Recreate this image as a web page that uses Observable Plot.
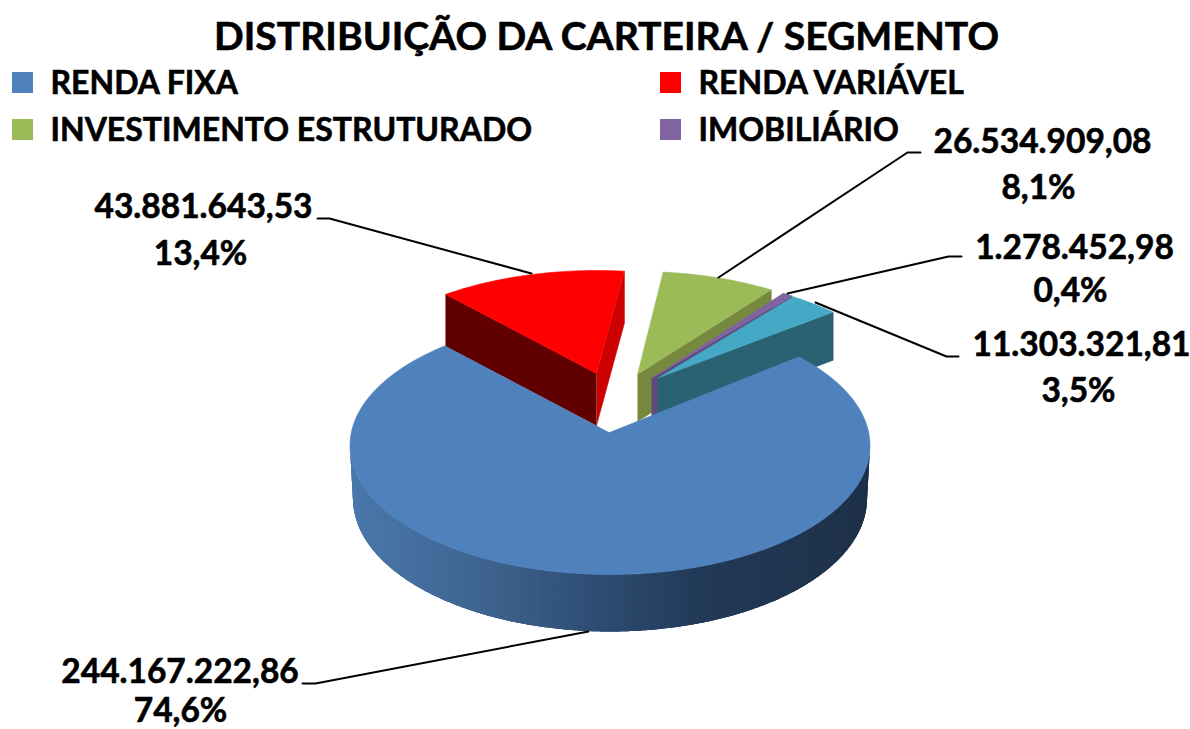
<!DOCTYPE html>
<html>
<head>
<meta charset="utf-8">
<script src="https://cdn.jsdelivr.net/npm/d3@7"></script>
<script src="https://cdn.jsdelivr.net/npm/@observablehq/plot@0.6"></script>
<style>html,body{margin:0;padding:0;background:#fff}svg{display:block}</style>
</head>
<body>
<div id="chart"></div>
<script>
// ---- data ----
const titleText = "DISTRIBUIÇÃO DA CARTEIRA / SEGMENTO";
const legendNames = ["RENDA FIXA", "RENDA VARIÁVEL", "INVESTIMENTO ESTRUTURADO", "IMOBILIÁRIO"];
const sliceValues = [244167222.86, 43881643.53, 26534909.08, 1278452.98, 11303321.81];

// ---- styles ----
const topColors  = ["#4f81bd", "#ff0000", "#9bbb59", "#8064a2", "#45a9c5"];
const wallColors = [null, "#600000", "#76893f", "#5f4a80", "#2a6273"];
const redEndWall = "#cc0000";
const blueWallStops = [[349, "#4a78ac"], [480, "#3f648f"], [600, "#2d4c72"], [700, "#223a58"], [870, "#1e3049"]];

// ---- layout (view geometry of the exploded, tilted pie) ----
const firstAngle = -43.4;
const sliceCentres = [[609.5, 445], [596, 399], [637, 400], [651, 404], [653, 405]];
const sliceApexes  = [[609, 432], [596, 373], [637, 374], [651, 378], [657, 378]];
const sliceRadii   = [260, 129];
const sliceDepths  = [0, 52, 47, 47, 48];
const perspectiveNudge = [[0, 5.4], [9.3, 2.6], [2.1, -1.8], [-2.3, -1.4], [-1.6, -2.9]];
const blueBottom = {cx: 609.5, cy: 498, rx: 257, ry: 133};

const legendSwatchX = [12, 660, 12, 660];
const legendSwatchY = [72, 72, 119, 119];
const legendTextX = [50, 698, 50, 698];
const legendTextY = [83, 83, 130, 130];

const labelValueX = [179.5, 203, 1042, 1074, 1081];
const labelValueY = [672, 207, 142, 248, 345];
const labelShareX = [180, 200, 1038, 1070, 1078];
const labelShareY = [711, 254, 188, 291, 391];
const leaderPaths = [
  [[302, 683], [315, 683], [588, 631]],
  [[317, 218], [329, 218], [531, 273]],
  [[920, 152], [907, 152], [718, 277]],
  [[961, 256], [948, 256], [787, 293]],
  [[958, 356], [946, 356], [815, 302]]
];

// ---- derived ----
const total = d3.sum(sliceValues);
const br = d3.formatLocale({decimal: ",", thousands: ".", grouping: [3], currency: ["", ""], percent: "%"});
const fmtValue = br.format(",.2f");
const fmtShare = br.format(".1%");
const rad = d => d * Math.PI / 180;

let running = firstAngle;
const sliceAngles = sliceValues.map((v, i) => {
  const a0 = running;
  running += v / total * 360;
  return [a0 + perspectiveNudge[i][0], running + perspectiveNudge[i][1]];
});

const rimPoint = (i, t) => [
  sliceCentres[i][0] + sliceRadii[0] * Math.cos(rad(t)),
  sliceCentres[i][1] + sliceRadii[1] * Math.sin(rad(t))
];
const rimArc = (i, t0, t1) => d3.range(0, 1.0001, 1 / Math.max(2, Math.ceil(Math.abs(t1 - t0)))).map(f => rimPoint(i, t0 + (t1 - t0) * f));
const shift = (p, d) => [p[0], p[1] + d];

let pid = 0;
const addPoly = (rows, pts, fill) => { pid++; pts.forEach(p => rows.push({id: pid, x: p[0], y: p[1], fill})); };
const sliceAt = i => ({apex: sliceApexes[i], a0: sliceAngles[i][0], a1: sliceAngles[i][1], d: sliceDepths[i]});

const backPolys = [], wallStrips = [], frontPoly = [];

// red: end wall, side wall, face
{
  const s = sliceAt(1), pStart = rimPoint(1, s.a0), pEnd = rimPoint(1, s.a1);
  addPoly(backPolys, [s.apex, pEnd, shift(pEnd, s.d), shift(s.apex, s.d)], redEndWall);
  addPoly(backPolys, [s.apex, pStart, shift(pStart, s.d), shift(s.apex, s.d)], wallColors[1]);
  addPoly(backPolys, [s.apex, ...rimArc(1, s.a0, s.a1)], topColors[1]);
}
// green, purple, teal: right-hand wall, then face
[2, 3, 4].forEach(i => {
  const s = sliceAt(i), pEnd = rimPoint(i, s.a1);
  addPoly(backPolys, [s.apex, pEnd, shift(pEnd, s.d), shift(s.apex, s.d)], wallColors[i]);
  addPoly(backPolys, [s.apex, ...rimArc(i, s.a0, s.a1)], topColors[i]);
});
// blue: curved outer wall as overlapping shaded strips, then the face
const blueShade = d3.scaleLinear().domain(blueWallStops.map(d => d[0])).range(blueWallStops.map(d => d[1])).interpolate(d3.interpolateRgb).clamp(true);
const bottomPoint = t => [blueBottom.cx + blueBottom.rx * Math.cos(rad(t)), blueBottom.cy + blueBottom.ry * Math.sin(rad(t))];
for (let t = 0; t < 180; t += 1) {
  const te = Math.min(180, t + 3);
  const top = d3.range(t, te + 0.01, 0.5).map(u => rimPoint(0, u));
  const bottom = d3.range(te, t - 0.01, -0.5).map(bottomPoint);
  addPoly(wallStrips, [...top, ...bottom], blueShade(rimPoint(0, t + 0.5)[0]));
}
{
  const s = sliceAt(0);
  addPoly(frontPoly, [s.apex, ...rimArc(0, s.a0, s.a1)], topColors[0]);
}

const leaderRows = leaderPaths.flatMap((path, i) => path.map(p => ({id: i, x: p[0], y: p[1]})));
const valueLabels = sliceValues.map((v, i) => ({text: fmtValue(v), x: labelValueX[i], y: labelValueY[i]}));
const shareLabels = sliceValues.map((v, i) => ({text: fmtShare(v / total), x: labelShareX[i], y: labelShareY[i]}));
const legendRows = legendNames.map((name, i) => ({name, color: topColors[i], sx: legendSwatchX[i], sy: legendSwatchY[i], tx: legendTextX[i], ty: legendTextY[i]}));

const font = "Lato, Carlito, 'Open Sans', sans-serif";
const baseStyle = {fontFamily: font, fontWeight: 700, fill: "#000", stroke: "#000", strokeWidth: 0.6, lineAnchor: "middle"};

const chart = Plot.plot({
  width: 1190, height: 729,
  marginTop: 0, marginRight: 0, marginBottom: 0, marginLeft: 0,
  x: {domain: [0, 1190], range: [0, 1190], axis: null},
  y: {domain: [0, 729], range: [0, 729], axis: null},
  color: {type: "identity"},
  style: {background: "#fff", overflow: "hidden"},
  marks: [
    Plot.line(backPolys, {x: "x", y: "y", z: "id", fill: "fill", stroke: "fill", strokeWidth: 0.6}),
    Plot.line(wallStrips, {x: "x", y: "y", z: "id", fill: "fill", stroke: null, strokeWidth: 0}),
    Plot.line(frontPoly, {x: "x", y: "y", z: "id", fill: "fill", stroke: "fill", strokeWidth: 0.6}),
    Plot.line(leaderRows, {x: "x", y: "y", z: "id", stroke: "#000", strokeWidth: 2}),
    Plot.text([titleText], {x: [606], y: [37], text: d => d, ...baseStyle, fontSize: 39.1}),
    Plot.rect(legendRows, {x1: "sx", x2: d => d.sx + 21, y1: "sy", y2: d => d.sy + 21, fill: "color"}),
    Plot.text(legendRows, {x: "tx", y: "ty", text: "name", textAnchor: "start", ...baseStyle, fontSize: 32}),
    Plot.text(valueLabels, {x: "x", y: "y", text: "text", ...baseStyle, fontSize: 33.5}),
    Plot.text(shareLabels, {x: "x", y: "y", text: "text", ...baseStyle, fontSize: 33.5})
  ]
});
document.getElementById("chart").append(chart);
</script>
</body>
</html>
